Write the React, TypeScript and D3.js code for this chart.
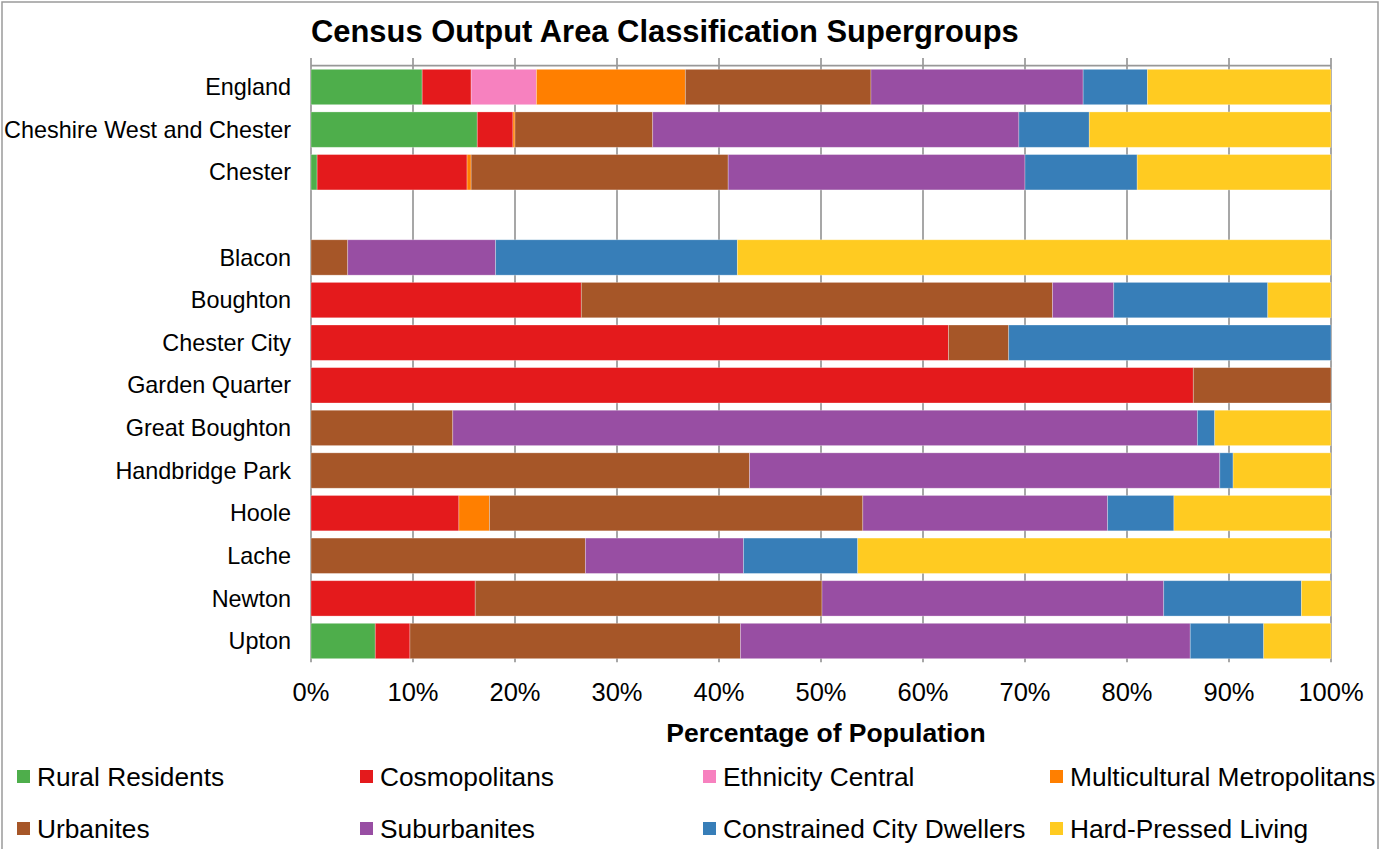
import React from "react";
import * as d3 from "d3";

const categories: string[] = [
  "England",
  "Cheshire West and Chester",
  "Chester",
  "",
  "Blacon",
  "Boughton",
  "Chester City",
  "Garden Quarter",
  "Great Boughton",
  "Handbridge Park",
  "Hoole",
  "Lache",
  "Newton",
  "Upton",
];

const seriesNames: string[] = [
  "Rural Residents",
  "Cosmopolitans",
  "Ethnicity Central",
  "Multicultural Metropolitans",
  "Urbanites",
  "Suburbanites",
  "Constrained City Dwellers",
  "Hard-Pressed Living",
];

const seriesColors: string[] = [
  "#4EAE4B",
  "#E41A1C",
  "#F781BF",
  "#FF7F00",
  "#A65628",
  "#984EA3",
  "#377EB8",
  "#FFCB21",
];

// values per series, in category order (percent of population)
const ruralResidents = [10.9, 16.3, 0.6, 0, 0, 0, 0, 0, 0, 0, 0, 0, 0, 6.3];
const cosmopolitans = [4.8, 3.5, 14.7, 0, 0, 26.5, 62.5, 86.5, 0, 0, 14.5, 0, 16.1, 3.4];
const ethnicityCentral = [6.4, 0, 0, 0, 0, 0, 0, 0, 0, 0, 0, 0, 0, 0];
const multiculturalMetropolitans = [14.6, 0.2, 0.4, 0, 0, 0, 0, 0, 0, 0, 3.0, 0, 0, 0];
const urbanites = [18.2, 13.5, 25.2, 0, 3.6, 46.2, 5.9, 13.5, 13.9, 43.0, 36.6, 26.9, 34.0, 32.4];
const suburbanites = [20.8, 35.9, 29.1, 0, 14.5, 6.0, 0, 0, 73.0, 46.1, 24.0, 15.5, 33.5, 44.1];
const constrainedCityDwellers = [6.3, 6.9, 11.0, 0, 23.7, 15.1, 31.6, 0, 1.7, 1.3, 6.5, 11.2, 13.5, 7.2];
const hardPressedLiving = [18.0, 23.7, 19.0, 0, 58.2, 6.2, 0, 0, 11.4, 9.6, 15.4, 46.4, 2.9, 6.6];

const seriesValues: number[][] = [
  ruralResidents,
  cosmopolitans,
  ethnicityCentral,
  multiculturalMetropolitans,
  urbanites,
  suburbanites,
  constrainedCityDwellers,
  hardPressedLiving,
];

const xTicks: number[] = [0, 10, 20, 30, 40, 50, 60, 70, 80, 90, 100];

const title = "Census Output Area Classification Supergroups";
const xAxisTitle = "Percentage of Population";

export default function App() {
  const W = 1385;
  const H = 849;
  const font = "'Liberation Sans', Arial, sans-serif";
  const gridColor = "#989898";

  const x = d3.scaleLinear().domain([0, 100]).range([311, 1331]);
  const y = d3
    .scaleBand<number>()
    .domain(categories.map((_, i) => i))
    .range([65.7, 662.3])
    .paddingInner(0.17)
    .paddingOuter(0.085);

  const rows = categories.map((c, i) => {
    const r: Record<string, number> = {};
    seriesNames.forEach((s, k) => (r[s] = seriesValues[k][i]));
    r.__index = i;
    return r;
  });
  const stacked = d3.stack<Record<string, number>>().keys(seriesNames)(rows);

  const plotTop = 65.7;
  const plotBottom = 662.3;

  const legendCols = [17, 360, 703, 1050];
  const legendRows = [776.5, 828.5];

  return (
    <svg
      width={W}
      height={H}
      style={{ position: "absolute", left: 0, top: 0, background: "#fff" }}
      fontFamily={font}
    >
      <rect x={2} y={2} width={1376} height={900} fill="#fff" stroke="#9a9a9a" strokeWidth={1.5} />

      <text x={311} y={42} fontSize={30.9} fontWeight="bold" fill="#000">
        {title}
      </text>

      {/* gridlines & ticks */}
      {xTicks.map((t) => (
        <line
          key={"g" + t}
          x1={x(t)}
          x2={x(t)}
          y1={58}
          y2={plotBottom}
          stroke={gridColor}
          strokeWidth={1.7}
        />
      ))}
      <line x1={x(0)} x2={x(100)} y1={plotTop} y2={plotTop} stroke={gridColor} strokeWidth={1.7} />

      {/* bars */}
      {stacked.map((layer, k) => (
        <g key={seriesNames[k]} fill={seriesColors[k]}>
          {layer.map((d, i) =>
            d[1] - d[0] > 0 ? (
              <rect
                key={i}
                x={x(d[0])}
                y={y(i)!}
                width={x(d[1]) - x(d[0])}
                height={y.bandwidth()}
                stroke="rgba(255,255,255,0.35)"
                strokeWidth={0.8}
              />
            ) : null
          )}
        </g>
      ))}

      {/* category labels */}
      {categories.map((c, i) => (
        <text
          key={"c" + i}
          x={291}
          y={y(i)! + y.bandwidth() / 2}
          dy="0.35em"
          textAnchor="end"
          fontSize={23.4}
          fill="#000"
        >
          {c}
        </text>
      ))}

      {/* x tick labels */}
      {xTicks.map((t) => (
        <text key={"t" + t} x={x(t)} y={701} textAnchor="middle" fontSize={25.5} fill="#000">
          {t + "%"}
        </text>
      ))}

      <text x={826} y={742} textAnchor="middle" fontSize={26.5} fontWeight="bold" fill="#000">
        {xAxisTitle}
      </text>

      {/* legend */}
      {seriesNames.map((s, k) => {
        const col = k % 4;
        const row = Math.floor(k / 4);
        const lx = legendCols[col];
        const ly = legendRows[row];
        return (
          <g key={"l" + s}>
            <rect x={lx} y={ly - 6.5} width={13} height={13} fill={seriesColors[k]} />
            <text x={lx + 20} y={ly} dy="0.35em" fontSize={26.3} fill="#000">
              {s}
            </text>
          </g>
        );
      })}
    </svg>
  );
}
